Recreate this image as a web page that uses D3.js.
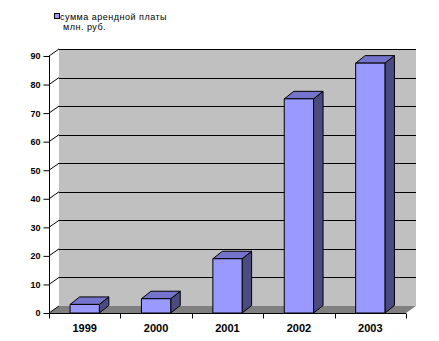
<!DOCTYPE html>
<html>
<head>
<meta charset="utf-8">
<title>Арендная плата</title>
<script src="https://cdnjs.cloudflare.com/ajax/libs/d3/7.8.5/d3.min.js"></script>
<style>
  body { margin: 0; background: #fff; }
  text { font-family: "Liberation Sans", Arial, sans-serif; }
</style>
</head>
<body>
<svg id="chart" width="439" height="341"></svg>
<script>
// data
let years  = ['1999', '2000', '2001', '2002', '2003'];
let values = [3, 5, 19, 75, 87.5];
let yTicks = [0, 10, 20, 30, 40, 50, 60, 70, 80, 90];
let legendLines = ['сумма арендной платы', 'млн. руб.'];

// 3d depth offset
let dx = 10, dy = -7;
let bdx = 9.5, bdy = -7.5;

let svg = d3.select('#chart');

let x = d3.scaleBand()
      .domain(years)
      .range([49, 406])
      .paddingInner(0.59)
      .paddingOuter(0.295);

let y = d3.scaleLinear()
      .domain([0, 90])
      .range([313, 56]);

let x0 = 49, x1 = 406;

// back wall
svg.append('rect')
   .attr('x', x0 + dx).attr('y', y(90) + dy)
   .attr('width', x1 - x0).attr('height', y(0) - y(90))
   .attr('fill', '#c0c0c0');

// floor
svg.append('polygon')
   .attr('points', [[x0, y(0)], [x1, y(0)], [x1 + dx, y(0) + dy], [x0 + dx, y(0) + dy]].join(' '))
   .attr('fill', '#808080');

// gridlines (back wall + left wall diagonals)
let grid = svg.append('g').attr('stroke', '#000').attr('stroke-width', 1).attr('fill', 'none');
grid.selectAll('.h')
    .data(yTicks.filter(d => d > 0))
    .enter().append('line')
    .attr('x1', x0 + dx).attr('x2', x1 + dx)
    .attr('y1', d => Math.round(y(d) + dy) + 0.5)
    .attr('y2', d => Math.round(y(d) + dy) + 0.5);
grid.selectAll('.d')
    .data(yTicks)
    .enter().append('line')
    .attr('x1', x0).attr('y1', d => y(d))
    .attr('x2', x0 + dx).attr('y2', d => y(d) + dy);

// y axis
let yAxis = d3.axisLeft(y).tickValues(yTicks).tickSize(6).tickPadding(3);
let gy = svg.append('g')
    .attr('transform', 'translate(' + (x0 + 0.5) + ',0)')
    .call(yAxis);
gy.select('.domain').attr('d', 'M0,' + y(90) + 'V' + y(0));
gy.selectAll('text')
  .attr('font-family', '"Liberation Sans", Arial, sans-serif')
  .attr('font-size', 9).attr('font-weight', 'bold').attr('fill', '#000');

// x axis (ticks between categories)
let gx = svg.append('g').attr('transform', 'translate(0,' + (Math.round(y(0)) + 0.5) + ')');
gx.append('line').attr('x1', x0).attr('x2', x1).attr('stroke', '#000');
let step = x.step();
gx.selectAll('.tk')
  .data(d3.range(years.length + 1))
  .enter().append('line')
  .attr('x1', i => Math.round(x0 + i * step) + 0.5)
  .attr('x2', i => Math.round(x0 + i * step) + 0.5)
  .attr('y1', 0).attr('y2', 5)
  .attr('stroke', '#000');
gx.selectAll('text')
  .data(years)
  .enter().append('text')
  .attr('x', d => x(d) + x.bandwidth() / 2)
  .attr('y', 18)
  .attr('text-anchor', 'middle')
  .attr('font-size', 11).attr('font-weight', 'bold')
  .text(d => d);

// bars
let bars = svg.append('g')
    .attr('stroke', '#000').attr('stroke-width', 1).attr('stroke-linejoin', 'round');
let bw = x.bandwidth();
years.forEach((yr, i) => {
  let bx = x(yr), by = y(values[i]), b0 = y(0);
  // side
  bars.append('polygon')
      .attr('points', [[bx + bw, b0], [bx + bw + bdx, b0 + bdy], [bx + bw + bdx, by + bdy], [bx + bw, by]].join(' '))
      .attr('fill', '#4b4b80');
  // top
  bars.append('polygon')
      .attr('points', [[bx, by], [bx + bdx, by + bdy], [bx + bw + bdx, by + bdy], [bx + bw, by]].join(' '))
      .attr('fill', '#7474cc');
  // front
  bars.append('rect')
      .attr('x', bx).attr('y', by)
      .attr('width', bw).attr('height', b0 - by)
      .attr('fill', '#9999ff');
});

// legend
let lg = svg.append('g');
lg.append('rect')
  .attr('x', 54.5).attr('y', 13.5).attr('width', 5).attr('height', 5)
  .attr('fill', '#9999ff').attr('stroke', '#000');
lg.selectAll('text')
  .data(legendLines)
  .enter().append('text')
  .attr('x', (d, i) => i === 0 ? 60 : 63)
  .attr('y', (d, i) => 19.5 + i * 10.5)
  .attr('font-size', 9)
  .attr('letter-spacing', 0.5)
  .text(d => d);
</script>
</body>
</html>
